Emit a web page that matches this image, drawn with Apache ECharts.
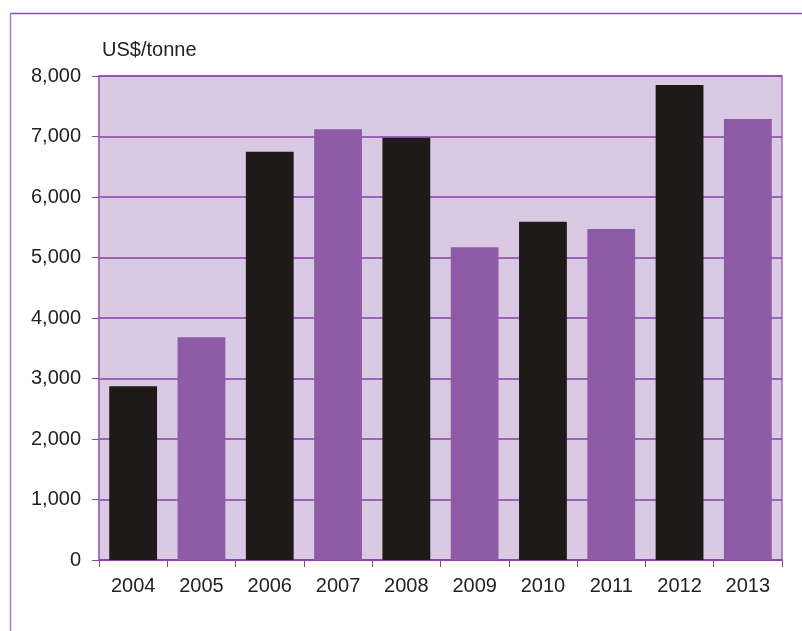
<!DOCTYPE html>
<html><head><meta charset="utf-8">
<script src="https://cdn.jsdelivr.net/npm/echarts@6/dist/echarts.min.js"></script>
<style>html,body{margin:0;padding:0;background:#fff}#c{width:802px;height:631px}</style>
</head><body><div id="c"></div>
<script>
const years = ['2004','2005','2006','2007','2008','2009','2010','2011','2012','2013'];
const prices = [2870, 3680, 6750, 7120, 6980, 5170, 5590, 5470, 7850, 7290];
const barColors = ['#1e1a1a', '#8e5ca6'];
const yTicks = [0, 1000, 2000, 3000, 4000, 5000, 6000, 7000, 8000];

const chart = echarts.init(document.getElementById('c'), null, {renderer: 'canvas'});
chart.setOption({
  animation: false,
  backgroundColor: '#ffffff',
  graphic: [
    {type: 'line', shape: {x1: 10, y1: 13.5, x2: 802, y2: 13.5}, style: {stroke: '#8a4aaa', lineWidth: 1.5}},
    {type: 'line', shape: {x1: 10.5, y1: 13, x2: 10.5, y2: 631}, style: {stroke: '#ab7ec8', lineWidth: 1.5}},
    {type: 'text', left: 102, top: 40, style: {text: 'US$/tonne', font: '20px "Liberation Sans", Arial', fill: '#222'}}
  ],
  grid: {left: 99, right: 20, top: 76, bottom: 71, show: true, backgroundColor: '#d9c9e3', borderColor: '#a06cbc', borderWidth: 1.5},
  xAxis: {
    type: 'category', data: years,
    axisLine: {lineStyle: {color: '#8a3fae', width: 1.5}},
    axisTick: {show: true, length: 7, lineStyle: {color: '#8a3fae'}},
    axisLabel: {color: '#222', fontSize: 20, fontFamily: '"Liberation Sans", Arial', margin: 16}
  },
  yAxis: {
    type: 'value', min: 0, max: 8000, interval: 1000,
    axisLine: {show: true, lineStyle: {color: '#a06cbc', width: 1.5}},
    axisTick: {show: true, length: 7, lineStyle: {color: '#8a3fae'}},
    splitLine: {show: true, lineStyle: {color: '#8a3fae', width: 1.5}},
    axisLabel: {color: '#222', fontSize: 20, fontFamily: '"Liberation Sans", Arial', margin: 18,
      formatter: v => v.toLocaleString('en-US')}
  },
  series: [{
    type: 'bar', barWidth: '70%',
    data: prices.map((v, i) => ({value: v, itemStyle: {color: barColors[i % 2]}}))
  }]
});
</script></body></html>
